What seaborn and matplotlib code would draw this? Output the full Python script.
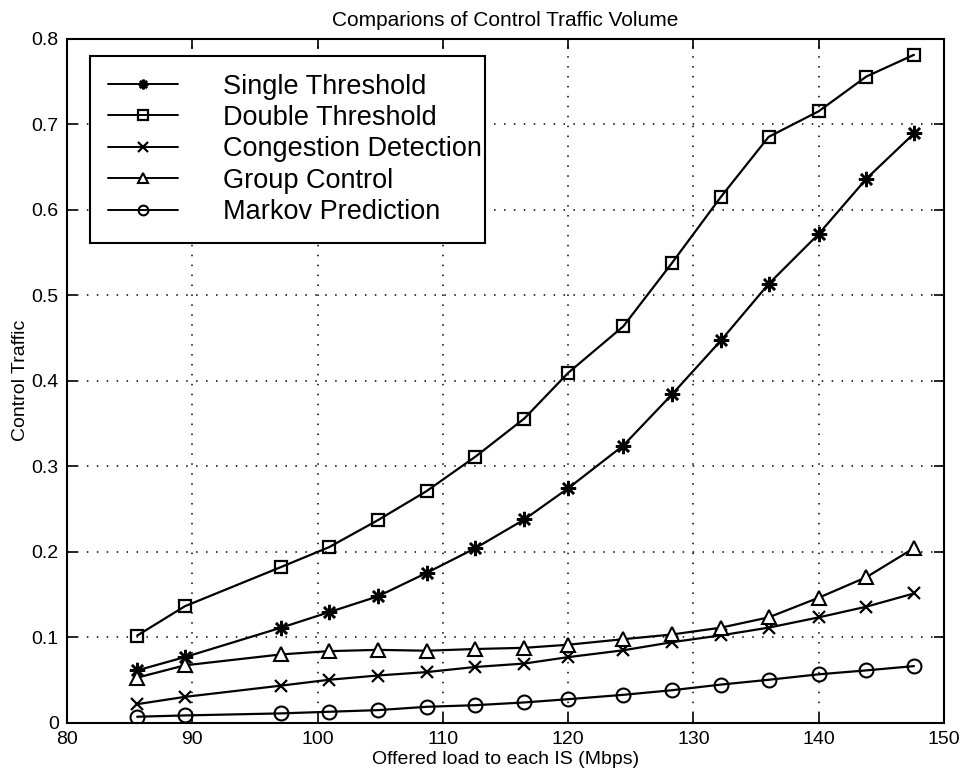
import matplotlib
matplotlib.use("Agg")
import matplotlib.pyplot as plt
import seaborn as sns
import pandas as pd

# Offered load per IS (Mbps)
offered_load = [85.6, 89.4, 97.1, 100.9, 104.8, 108.7, 112.6, 116.5,
                120.0, 124.4, 128.3, 132.2, 136.0, 140.0, 143.8, 147.6]

single_threshold = [0.061, 0.0765, 0.111, 0.129, 0.1475, 0.175, 0.204, 0.2375,
                    0.274, 0.324, 0.384, 0.447, 0.513, 0.5715, 0.636, 0.689]
double_threshold = [0.1017, 0.136, 0.182, 0.205, 0.2366, 0.2707, 0.311, 0.3556,
                    0.409, 0.4634, 0.5378, 0.615, 0.685, 0.715, 0.7556, 0.781]
congestion_detection = [0.0215, 0.030, 0.0432, 0.050, 0.055, 0.059, 0.065, 0.069,
                        0.0765, 0.0845, 0.094, 0.102, 0.111, 0.123, 0.1355, 0.151]
group_control = [0.0525, 0.0669, 0.0797, 0.0835, 0.085, 0.084, 0.086, 0.0874,
                 0.091, 0.0975, 0.103, 0.111, 0.123, 0.146, 0.170, 0.204]
markov_prediction = [0.0068, 0.0083, 0.0107, 0.0126, 0.0145, 0.0184, 0.0203, 0.0235,
                     0.0273, 0.0324, 0.0378, 0.0444, 0.050, 0.0564, 0.061, 0.066]

series_names = ["Single Threshold", "Double Threshold", "Congestion Detection",
                "Group Control", "Markov Prediction"]
series_values = [single_threshold, double_threshold, congestion_detection,
                 group_control, markov_prediction]

x_ticks = [80, 90, 100, 110, 120, 130, 140, 150]
y_ticks = [0, 0.1, 0.2, 0.3, 0.4, 0.5, 0.6, 0.7, 0.8]
y_tick_labels = ["0", "0.1", "0.2", "0.3", "0.4", "0.5", "0.6", "0.7", "0.8"]

# Marker styles: asterisk, square, cross, triangle, circle
marker_styles = {
    "Single Threshold": dict(marker=(8, 2, 0), markersize=11, markeredgewidth=1.8),
    "Double Threshold": dict(marker="s", markersize=8, markeredgewidth=1.6,
                             markerfacecolor="none"),
    "Congestion Detection": dict(marker="x", markersize=8, markeredgewidth=1.6),
    "Group Control": dict(marker="^", markersize=10, markeredgewidth=1.5,
                          markerfacecolor="white"),
    "Markov Prediction": dict(marker="o", markersize=10, markeredgewidth=1.5,
                              markerfacecolor="none"),
}

df = pd.concat(
    [pd.DataFrame({"load": offered_load, "traffic": vals, "scheme": name})
     for name, vals in zip(series_names, series_values)],
    ignore_index=True,
)

sns.set_theme(style="ticks")
plt.rcParams["font.family"] = ["Liberation Sans", "DejaVu Sans"]
plt.rcParams["text.color"] = "black"
plt.rcParams["axes.labelcolor"] = "black"
plt.rcParams["xtick.color"] = "black"
plt.rcParams["ytick.color"] = "black"

fig = plt.figure(figsize=(9.63, 7.76), dpi=100)
ax = fig.add_axes([0.0696, 0.0689, 0.9107, 0.8814])

for name in series_names:
    sub = df[df["scheme"] == name]
    sns.lineplot(data=sub, x="load", y="traffic", ax=ax, color="black",
                 linewidth=1.6, markeredgecolor="black", label=name,
                 **marker_styles[name])

ax.set_xlim(80, 150)
ax.set_ylim(0, 0.8)
ax.set_xticks(x_ticks)
ax.set_yticks(y_ticks)
ax.set_yticklabels(y_tick_labels)
ax.tick_params(direction="in", length=7, width=1.2, top=True, right=True,
               labelsize=14, colors="black", labelcolor="black", pad=6)
for s in ax.spines.values():
    s.set_color("black")
    s.set_linewidth(1.5)
ax.grid(True, linestyle=(0, (1, 5.5)), color="black", linewidth=1.1)

ax.set_title("Comparions of Control Traffic Volume", fontsize=15, pad=9,
             color="black")
ax.set_xlabel("Offered load to each IS (Mbps)", fontsize=14, labelpad=2,
              color="black")
ax.set_ylabel("Control Traffic", fontsize=14, labelpad=2, color="black")

leg = ax.legend(loc="upper left", bbox_to_anchor=(0.0262, 0.9746, 0.4504, 0.0),
                mode="expand", fontsize=19.5, frameon=True, fancybox=False,
                edgecolor="black", handlelength=2.6, handletextpad=1.65,
                labelspacing=0.2, borderpad=0.65, borderaxespad=0.0)
leg.get_frame().set_linewidth(1.5)
leg.get_frame().set_alpha(1)
for t in leg.get_texts():
    t.set_color("black")
for h in leg.legend_handles:
    h.set_markersize(7)
    h.set_linewidth(1.4)

fig.savefig("out.png", dpi=100, facecolor="white")
